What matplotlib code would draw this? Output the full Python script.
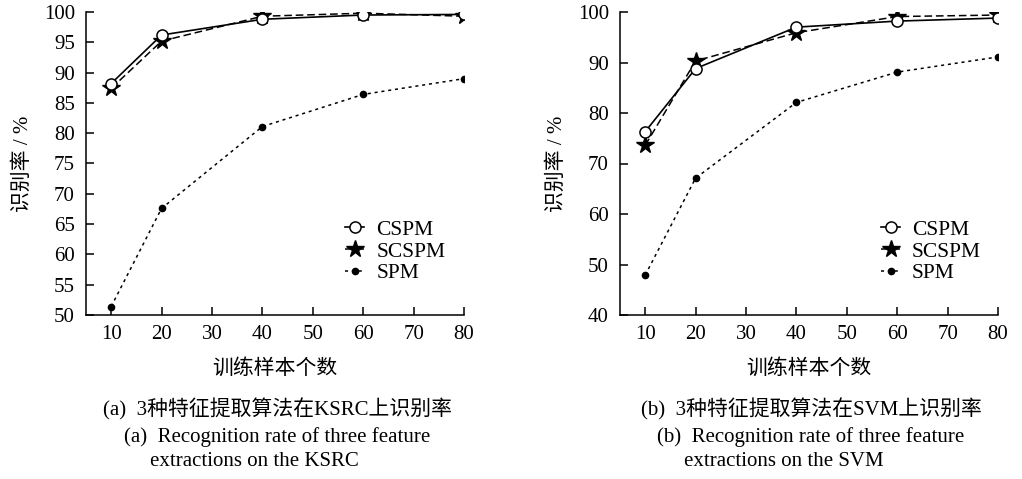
import numpy as np
import matplotlib
matplotlib.use("Agg")
import matplotlib.pyplot as plt

plt.rcParams['font.family'] = ['Liberation Serif', 'Noto Sans CJK SC']

# training sample counts
samples = [10, 20, 40, 60, 80]

# (a) KSRC
ksrc_cspm = [88.2, 96.2, 98.8, 99.5, 99.6]
ksrc_scspm = [87.4, 95.2, 99.3, 99.8, 99.3]
ksrc_spm = [51.4, 67.6, 81.1, 86.4, 89.0]

# (b) SVM
svm_cspm = [76.3, 88.8, 97.0, 98.2, 98.8]
svm_scspm = [73.6, 90.3, 95.9, 99.1, 99.4]
svm_spm = [47.9, 67.1, 82.1, 88.1, 91.1]

x_ticks = [10, 20, 30, 40, 50, 60, 70, 80]
ylabel = "识别率 / %"
xlabel = "训练样本个数"
captions = [
    ["(a)  3种特征提取算法在KSRC上识别率",
     "(a)  Recognition rate of three feature",
     "extractions on the KSRC"],
    ["(b)  3种特征提取算法在SVM上识别率",
     "(b)  Recognition rate of three feature",
     "extractions on the SVM"],
]

fig = plt.figure(figsize=(10.22, 4.79), dpi=100)
ax1 = fig.add_axes([86 / 1022, 1 - 315 / 479, 378 / 1022, 303 / 479])
ax2 = fig.add_axes([620 / 1022, 1 - 315 / 479, 378 / 1022, 303 / 479])

panels = [
    (ax1, ksrc_cspm, ksrc_scspm, ksrc_spm, (50, 100), np.arange(50, 101, 5), 0.685),
    (ax2, svm_cspm, svm_scspm, svm_spm, (40, 100), np.arange(40, 101, 10), 0.69),
]

for ax, cspm, scspm, spm, ylim, yticks, leg_x in panels:
    ax.plot(samples, cspm, color="black", linestyle="-", linewidth=1.2,
            marker="o", markersize=8, markerfacecolor="white",
            markeredgecolor="black", markeredgewidth=1.1, label="CSPM", zorder=3)
    ax.plot(samples, scspm, color="black", linestyle=(0, (5, 2.5)), linewidth=1.1,
            marker="*", markersize=13, markerfacecolor="black",
            markeredgecolor="black", label="SCSPM", zorder=2)
    ax.plot(samples, spm, color="black", linestyle=(0, (2, 2.5)), linewidth=1.1,
            marker="o", markersize=4.5, markerfacecolor="black",
            markeredgecolor="black", label="SPM", zorder=2)

    ax.set_xlim(5, 80)
    ax.set_ylim(*ylim)
    ax.set_xticks(x_ticks)
    ax.set_yticks(yticks)
    ax.spines["top"].set_visible(False)
    ax.spines["right"].set_visible(False)
    ax.spines["left"].set_linewidth(1.1)
    ax.spines["bottom"].set_linewidth(1.1)
    for s in ax.spines.values():
        s.set_clip_on(False)
    ax.tick_params(direction="in", length=6, width=1.1, labelsize=15, pad=8)
    ax.tick_params(axis="x", pad=7)
    ax.set_ylabel(ylabel, fontsize=15, labelpad=8)
    ax.set_xlabel(xlabel, fontsize=15, labelpad=11)
    ax.legend(loc="upper left", bbox_to_anchor=(leg_x, 0.314), frameon=False,
              fontsize=15.5, handlelength=0.9, handletextpad=0.55,
              labelspacing=0.07, borderaxespad=0, borderpad=0)

offsets = [0, 534]
for dx, lines in zip(offsets, captions):
    fig.text((277 + dx) / 1022, 1 - 409 / 479, lines[0], ha="center", va="center", fontsize=15)
    fig.text((277 + dx) / 1022, 1 - 437 / 479, lines[1], ha="center", va="center", fontsize=15)
    fig.text((150 + dx) / 1022, 1 - 462 / 479, lines[2], ha="left", va="center", fontsize=15)

fig.savefig("out.png", dpi=100)
